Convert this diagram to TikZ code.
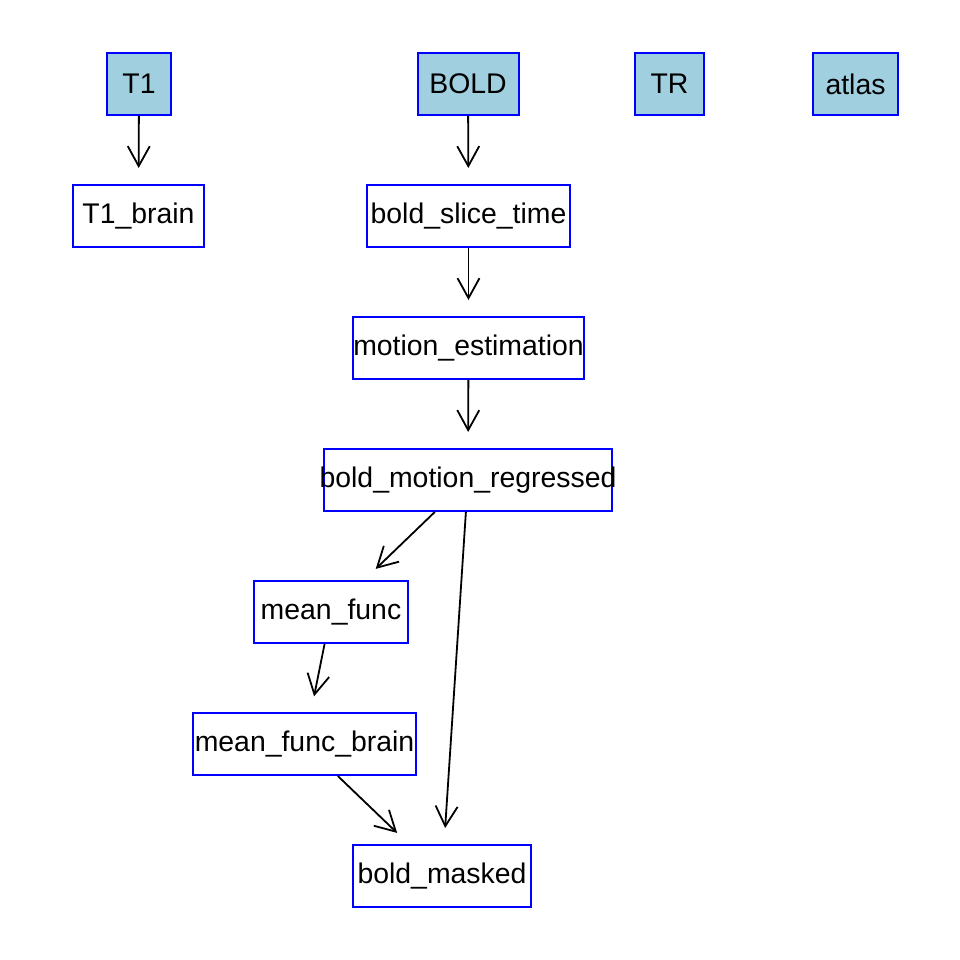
\documentclass[tikz,border=0pt]{standalone}
\usepackage{fontspec}
\setmainfont{Liberation Sans}
\usetikzlibrary{arrows.meta}
\definecolor{inputFill}{RGB}{160,207,223}
\tikzset{
  vbox/.style={draw=blue,line width=1pt,minimum height=31pt,minimum width=#1,
    inner sep=0pt,font=\fontsize{14.2}{17}\selectfont},
  vin/.style={vbox=#1,fill=inputFill},
  edge/.style={black,line width=0.9pt,-{Straight Barb[length=10pt,width=11pt]},
    shorten >=8pt}
}

\begin{document}
\begin{tikzpicture}[x=0.5pt,y=-0.5pt]
\useasboundingbox (0,0) rectangle (960,960);
% inputs
\node[vin=32pt] (T1) at (139,84) {T1};
\node[vin=50.5pt] (BOLD) at (468,84) {BOLD};
\node[vin=34.5pt] (TR) at (669.5,84) {TR};
\node[vin=42.5pt] (atlas) at (855.5,84) {atlas};
% steps
\node[vbox=65.5pt] (T1brain) at (138.5,216) {T1\_brain};
\node[vbox=101.5pt] (slice) at (468.5,216) {bold\_slice\_time};
\node[vbox=115.5pt] (motion) at (468.5,348) {motion\_estimation};
\node[vbox=144pt] (regressed) at (468,480) {\makebox[0pt]{bold\_motion\_regressed}};
\node[vbox=77pt] (meanfunc) at (331,612) {mean\_func};
\node[vbox=111.5pt] (meanbrain) at (304.5,744) {mean\_func\_brain};
\node[vbox=89pt] (masked) at (442,876) {bold\_masked};
% edges
\draw[edge] (T1) -- (T1brain);
\draw[edge] (BOLD) -- (slice);
\draw[edge] (slice) -- (motion);
\draw[edge] (motion) -- (regressed);
\draw[edge] (regressed) -- (meanfunc);
\draw[edge] (regressed) -- (masked);
\draw[edge] (meanfunc) -- (meanbrain);
\draw[edge] (meanbrain) -- (masked);
\end{tikzpicture}
\end{document}
